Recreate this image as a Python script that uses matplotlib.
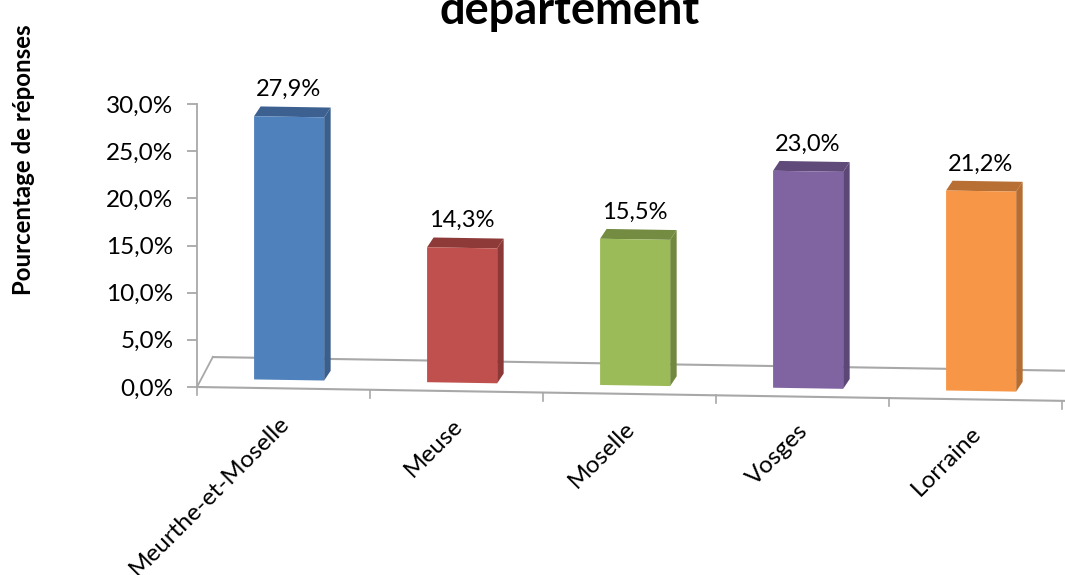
import matplotlib
matplotlib.use("Agg")
import matplotlib.pyplot as plt
from matplotlib.patches import Polygon
from matplotlib.transforms import Affine2D

plt.rcParams['font.family'] = ['Lato', 'DejaVu Sans']

categories = ["Meurthe-et-Moselle", "Meuse", "Moselle", "Vosges", "Lorraine"]
values = [27.9, 14.3, 15.5, 23.0, 21.2]
value_labels = ["27,9%", "14,3%", "15,5%", "23,0%", "21,2%"]
y_ticks = [0, 5, 10, 15, 20, 25, 30]
y_tick_labels = ["0,0%", "5,0%", "10,0%", "15,0%", "20,0%", "25,0%", "30,0%"]
front_colors = ["#4F81BD", "#C0504D", "#9BBB59", "#8064A2", "#F79646"]
side_colors = ["#3A5F8C", "#8C3836", "#71893F", "#5C4776", "#B66D31"]
top_colors = ["#3C6191", "#8E3A38", "#738C42", "#5F4A79", "#B86F33"]

W, H = 1065, 575
fig = plt.figure(figsize=(W / 100, H / 100), dpi=100)
ax = fig.add_axes([197 / W, (H - 387) / H, 865 / W, 283 / H])
ax.set_xlim(0, 5)
ax.set_ylim(0, 30)
ax.patch.set_alpha(0)

# the floor of the 3d chart runs slightly downhill
skew = Affine2D.from_values(1, -0.2935, 0, 1, 0, 0) + ax.transData

grey = "#a8a8a8"
for s in ["top", "right", "bottom"]:
    ax.spines[s].set_visible(False)
ax.spines["left"].set_color(grey)
ax.spines["left"].set_linewidth(1.3)
ax.set_xticks([])
ax.set_yticks(y_ticks)
ax.set_yticklabels(y_tick_labels, fontsize=17.5, color="black")
ax.tick_params(axis="y", length=7, width=1.3, color=grey, pad=10)

# floor outline
ax.plot([0, 5.02], [0, 0], color=grey, lw=1.5, transform=skew, clip_on=False, zorder=1)
ax.plot([0.092, 5.02], [3.2, 3.2], color=grey, lw=1.5, transform=skew, clip_on=False, zorder=1)
ax.plot([0, 0.092], [0, 3.2], color=grey, lw=1.3, clip_on=False, zorder=1)
for i in range(6):
    ax.plot([i, i], [0, -0.85], color=grey, lw=1.2, transform=skew, clip_on=False, zorder=1)

# bars
bar_w = 0.405
base = 0.9
dx = 6.5 / 173
dy = 1.05
xpos = [i + 0.33 for i in range(len(values))]
ax.bar(xpos, values, width=bar_w, bottom=base, align="edge", color=front_colors,
       transform=skew, clip_on=False, zorder=3)
for x, v, side, top, lab in zip(xpos, values, side_colors, top_colors, value_labels):
    t = base + v
    r = x + bar_w
    ax.add_patch(Polygon([(r, base), (r + dx, base + dy), (r + dx, t + dy), (r, t)],
                         facecolor=side, transform=skew, clip_on=False, zorder=2))
    ax.add_patch(Polygon([(x, t), (x + dx, t + dy), (r + dx, t + dy), (r, t)],
                         facecolor=top, transform=skew, clip_on=False, zorder=2))
    ax.annotate(lab, xy=(x + bar_w / 2, t), xycoords=skew, xytext=(-0.5, 19.5),
                textcoords="offset points", ha="center", va="center",
                fontsize=17, annotation_clip=False)

for i, name in enumerate(categories):
    ax.annotate(name, xy=(i + 0.47, 0), xycoords=skew, xytext=(0, -17),
                textcoords="offset points", rotation=45, rotation_mode="anchor",
                ha="right", va="top", fontsize=17.5, annotation_clip=False)

fig.text(570 / W, 1 - 24 / H, "département", ha="center", va="baseline",
         fontsize=32.5, fontweight="bold")
fig.text(24 / W, 1 - 160 / H, "Pourcentage de réponses", rotation=90, ha="center",
         va="center", fontsize=17.3, fontweight="bold")

fig.savefig("out.png", dpi=100)
